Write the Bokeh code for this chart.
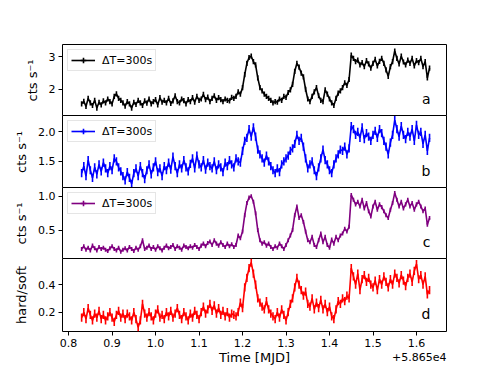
import numpy as np
from bokeh.plotting import figure
from bokeh.layouts import column
from bokeh.models import (ColumnDataSource, Range1d, FixedTicker, Legend, LegendItem,
                          Label, NumeralTickFormatter)
from bokeh.embed import file_html
from bokeh.resources import INLINE

# ---------------- data (MJD - 58650) ----------------
t_start = 0.83
t_step = 0.005

rate_a = [1.55,1.63,1.47,1.72,1.58,1.50,1.66,1.42,1.60,1.52,
          1.64,1.58,1.70,1.62,1.55,1.78,1.86,1.72,1.66,1.58,
          1.48,1.62,1.55,1.42,1.60,1.53,1.66,1.58,1.50,1.64,
          1.57,1.70,1.55,1.62,1.68,1.52,1.74,1.60,1.66,1.58,
          1.72,1.56,1.64,1.80,1.62,1.58,1.70,1.65,1.55,1.68,
          1.62,1.74,1.60,1.78,1.66,1.70,1.84,1.68,1.76,1.62,
          1.72,1.80,1.66,1.74,1.68,1.62,1.70,1.66,1.64,1.75,
          1.72,1.78,1.92,1.85,2.05,2.45,2.80,2.98,3.02,2.85,
          2.75,2.35,2.05,1.95,1.85,1.78,1.72,1.66,1.58,1.62,
          1.60,1.70,1.66,1.78,1.75,1.90,1.98,2.15,2.55,2.80,
          2.68,2.50,2.38,2.00,1.70,1.62,1.78,1.92,2.05,1.80,
          1.66,1.62,1.98,1.85,1.70,1.58,1.50,1.72,1.88,1.95,
          2.05,2.20,2.12,2.30,3.05,2.95,2.85,2.90,2.75,2.82,
          2.70,2.88,2.78,2.65,2.80,2.92,2.72,2.86,2.95,2.80,
          2.60,2.40,2.70,2.85,3.18,2.95,2.78,3.02,2.84,2.75,
          2.90,2.80,2.95,2.72,2.88,2.82,2.95,2.70,2.85,2.35,2.65]

rate_b = [1.30,1.42,1.25,1.52,1.35,1.22,1.40,1.28,1.45,1.33,
          1.48,1.38,1.30,1.42,1.35,1.55,1.50,1.40,1.33,1.25,
          1.18,1.32,1.22,1.12,1.30,1.38,1.25,1.42,1.30,1.20,
          1.35,1.45,1.28,1.40,1.50,1.32,1.38,1.25,1.42,1.35,
          1.48,1.36,1.58,1.42,1.30,1.45,1.38,1.52,1.40,1.33,
          1.46,1.55,1.38,1.60,1.45,1.40,1.52,1.36,1.48,1.42,
          1.38,1.50,1.35,1.45,1.40,1.32,1.48,1.42,1.52,1.45,
          1.40,1.55,1.50,1.48,1.68,1.85,1.90,2.05,1.92,2.08,
          1.92,1.70,1.62,1.55,1.48,1.60,1.50,1.42,1.35,1.30,
          1.38,1.32,1.45,1.50,1.55,1.60,1.68,1.72,1.80,1.95,
          1.85,1.90,1.75,1.55,1.38,1.45,1.50,1.35,1.25,1.40,
          1.55,1.70,1.52,1.45,1.35,1.30,1.45,1.55,1.62,1.70,
          1.68,1.75,1.62,1.72,2.10,2.05,1.95,2.00,1.90,2.08,
          1.88,1.98,1.92,1.85,1.95,2.02,1.90,2.05,1.98,1.85,
          1.75,1.62,1.82,1.95,2.20,2.05,1.92,2.10,1.95,1.88,
          2.00,1.92,2.05,1.85,2.12,1.95,2.00,1.80,1.95,1.68,1.90]

rate_c = [0.22,0.26,0.21,0.24,0.20,0.27,0.23,0.20,0.25,0.22,
          0.24,0.21,0.19,0.23,0.26,0.22,0.20,0.24,0.18,0.21,
          0.23,0.20,0.25,0.22,0.19,0.24,0.21,0.26,0.35,0.22,
          0.24,0.27,0.22,0.25,0.21,0.26,0.23,0.20,0.24,0.27,
          0.23,0.25,0.28,0.22,0.26,0.24,0.21,0.27,0.25,0.23,
          0.26,0.24,0.28,0.25,0.22,0.27,0.30,0.26,0.31,0.33,
          0.28,0.35,0.30,0.27,0.32,0.28,0.25,0.30,0.26,0.29,
          0.25,0.28,0.42,0.38,0.48,0.72,0.90,0.98,1.00,0.92,
          0.75,0.50,0.35,0.30,0.32,0.27,0.30,0.25,0.22,0.26,
          0.24,0.30,0.26,0.22,0.28,0.35,0.42,0.50,0.72,0.85,
          0.68,0.72,0.62,0.48,0.35,0.32,0.40,0.28,0.25,0.35,
          0.45,0.32,0.40,0.28,0.24,0.36,0.30,0.40,0.35,0.42,
          0.45,0.52,0.48,0.55,1.02,0.95,0.88,0.92,0.85,0.95,
          0.82,0.90,0.78,0.70,0.85,0.92,0.80,0.88,0.84,0.78,
          0.72,0.68,0.80,0.90,1.05,0.95,0.85,0.92,0.82,0.88,
          0.95,0.85,0.90,0.80,0.88,0.92,0.85,0.78,0.82,0.58,0.68]

ratio_d = [0.16,0.20,0.15,0.23,0.18,0.14,0.19,0.16,0.21,0.15,
           0.18,0.14,0.17,0.20,0.16,0.13,0.18,0.21,0.16,0.19,
           0.15,0.19,0.17,0.14,0.20,0.15,0.09,0.14,0.26,0.19,
           0.16,0.20,0.17,0.14,0.19,0.22,0.16,0.18,0.15,0.20,
           0.17,0.21,0.16,0.19,0.23,0.18,0.15,0.20,0.17,0.14,
           0.19,0.16,0.21,0.18,0.15,0.20,0.24,0.19,0.22,0.26,
           0.21,0.25,0.19,0.23,0.18,0.21,0.17,0.20,0.16,0.19,
           0.18,0.17,0.20,0.27,0.23,0.38,0.45,0.52,0.56,0.48,
           0.40,0.30,0.27,0.24,0.22,0.28,0.22,0.19,0.17,0.15,
           0.20,0.16,0.22,0.18,0.14,0.20,0.26,0.30,0.38,0.45,
           0.40,0.36,0.32,0.35,0.26,0.24,0.30,0.22,0.27,0.23,
           0.29,0.22,0.26,0.20,0.24,0.17,0.15,0.22,0.28,0.26,
           0.30,0.28,0.32,0.30,0.52,0.46,0.40,0.48,0.36,0.44,
           0.47,0.42,0.45,0.40,0.38,0.43,0.36,0.44,0.40,0.46,
           0.42,0.38,0.44,0.40,0.48,0.45,0.41,0.47,0.43,0.39,
           0.45,0.48,0.42,0.50,0.55,0.44,0.47,0.40,0.46,0.33,0.36]

errors = [0.08, 0.07, 0.03, 0.03]
colors = ["black", "blue", "purple", "red"]
ylabels = ["cts s\u207b\u00b9", "cts s\u207b\u00b9", "cts s\u207b\u00b9", "hard/soft"]
letters = ["a", "b", "c", "d"]
yranges = [(1.16, 3.38), (1.04, 2.28), (0.065, 1.13), (0.06, 0.59)]
yticks = [[2, 3], [1.5, 2.0], [0.5, 1.0], [0.2, 0.4]]
yfmt = ["0", "0.0", "0.0", "0.0"]
xticks = [0.8, 0.9, 1.0, 1.1, 1.2, 1.3, 1.4, 1.5, 1.6]
legend_text = "\u0394T=300s"
xlabel = "Time [MJD]"
offset_text = "+5.865e4"
series = [rate_a, rate_b, rate_c, ratio_d]

t = t_start + t_step * np.arange(len(rate_a))

FONT = "DejaVu Sans"
xr = Range1d(0.786, 1.669)
frame_heights = [72, 73, 72, 73]
FW = 384
LEFT = 62
FOOT_H = 20


def style_axis(ax, size="11px"):
    ax.major_label_text_font = FONT
    ax.major_label_text_font_size = size
    ax.major_label_text_color = "black"
    ax.major_tick_line_color = "black"
    ax.major_tick_out = 4
    ax.major_tick_in = 0
    ax.minor_tick_out = 0
    ax.minor_tick_in = 0
    ax.major_label_standoff = 3
    ax.axis_line_color = None
    ax.axis_label_text_color = "black"
    ax.axis_label_text_font = FONT
    ax.axis_label_text_font_style = "normal"
    ax.axis_label_text_font_size = "13px"


figs = []
for k in range(4):
    last = (k == 3)
    p = figure(frame_width=FW, frame_height=frame_heights[k], x_range=xr,
               y_range=Range1d(*yranges[k]), output_backend="svg",
               toolbar_location=None, min_border_left=LEFT, min_border_right=30,
               min_border_top=44 if k == 0 else 0, min_border_bottom=0,
               margin=(0, 0, 0, 0) if k == 0 else (-1, 0, 0, 0))
    p.grid.visible = False
    p.outline_line_color = "black"
    p.outline_line_width = 1
    p.background_fill_color = "white"
    p.border_fill_color = "white"

    y = np.array(series[k])
    e = errors[k]
    src = ColumnDataSource(dict(t=t, y=y, lo=y - e, hi=y + e))
    p.segment(x0="t", y0="lo", x1="t", y1="hi", source=src,
              line_color=colors[k], line_width=1.6)
    lr = p.line("t", "y", source=src, line_color=colors[k], line_width=1.6)

    ya = p.yaxis[0]
    style_axis(ya)
    ya.ticker = FixedTicker(ticks=yticks[k])
    ya.formatter = NumeralTickFormatter(format=yfmt[k])
    ya.axis_label = ylabels[k]
    ya.axis_label_standoff = 6

    xa = p.xaxis[0]
    if last:
        style_axis(xa)
        xa.ticker = FixedTicker(ticks=xticks)
        xa.formatter = NumeralTickFormatter(format="0.0")
    else:
        xa.visible = False

    if k < 3:
        dummy = ColumnDataSource(dict(x=[-10.0], y=[-10.0]))
        cr = p.scatter("x", "y", source=dummy, marker="cross", size=10,
                       line_color=colors[k], line_width=1.6)
        leg = Legend(items=[LegendItem(label=legend_text, renderers=[lr, cr])],
                     location="top_left")
        leg.label_text_font = FONT
        leg.label_text_font_size = "11px"
        leg.label_text_color = "black"
        leg.border_line_color = "#cccccc"
        leg.border_line_width = 1
        leg.background_fill_alpha = 0.8
        leg.glyph_width = 24
        leg.glyph_height = 14
        leg.label_standoff = 7
        leg.padding = 3
        leg.margin = 5
        leg.label_height = 14
        p.add_layout(leg)

    p.add_layout(Label(x=FW - 16, y=10, x_units="screen", y_units="screen",
                       text=letters[k], text_align="right", text_baseline="bottom",
                       text_font=FONT, text_font_size="14px", text_color="black"))
    figs.append(p)

# footer strip carrying the x-axis title and the offset text
foot = figure(frame_width=FW, frame_height=FOOT_H, x_range=xr, y_range=Range1d(0, 1),
              output_backend="svg", toolbar_location=None, min_border_left=LEFT,
              min_border_right=30, min_border_top=0, min_border_bottom=0)
foot.axis.visible = False
foot.grid.visible = False
foot.outline_line_color = None
foot.add_layout(Label(x=FW / 2, y=FOOT_H - 8, x_units="screen", y_units="screen",
                      text=xlabel, text_align="center", text_baseline="middle",
                      text_font=FONT, text_font_size="13px", text_color="black"))
foot.add_layout(Label(x=FW, y=FOOT_H - 7, x_units="screen", y_units="screen",
                      text=offset_text, text_align="right", text_baseline="middle",
                      text_font=FONT, text_font_size="11px", text_color="black"))
figs.append(foot)

layout = column(*figs, spacing=0)
open("out.html", "w").write(file_html(layout, INLINE))
